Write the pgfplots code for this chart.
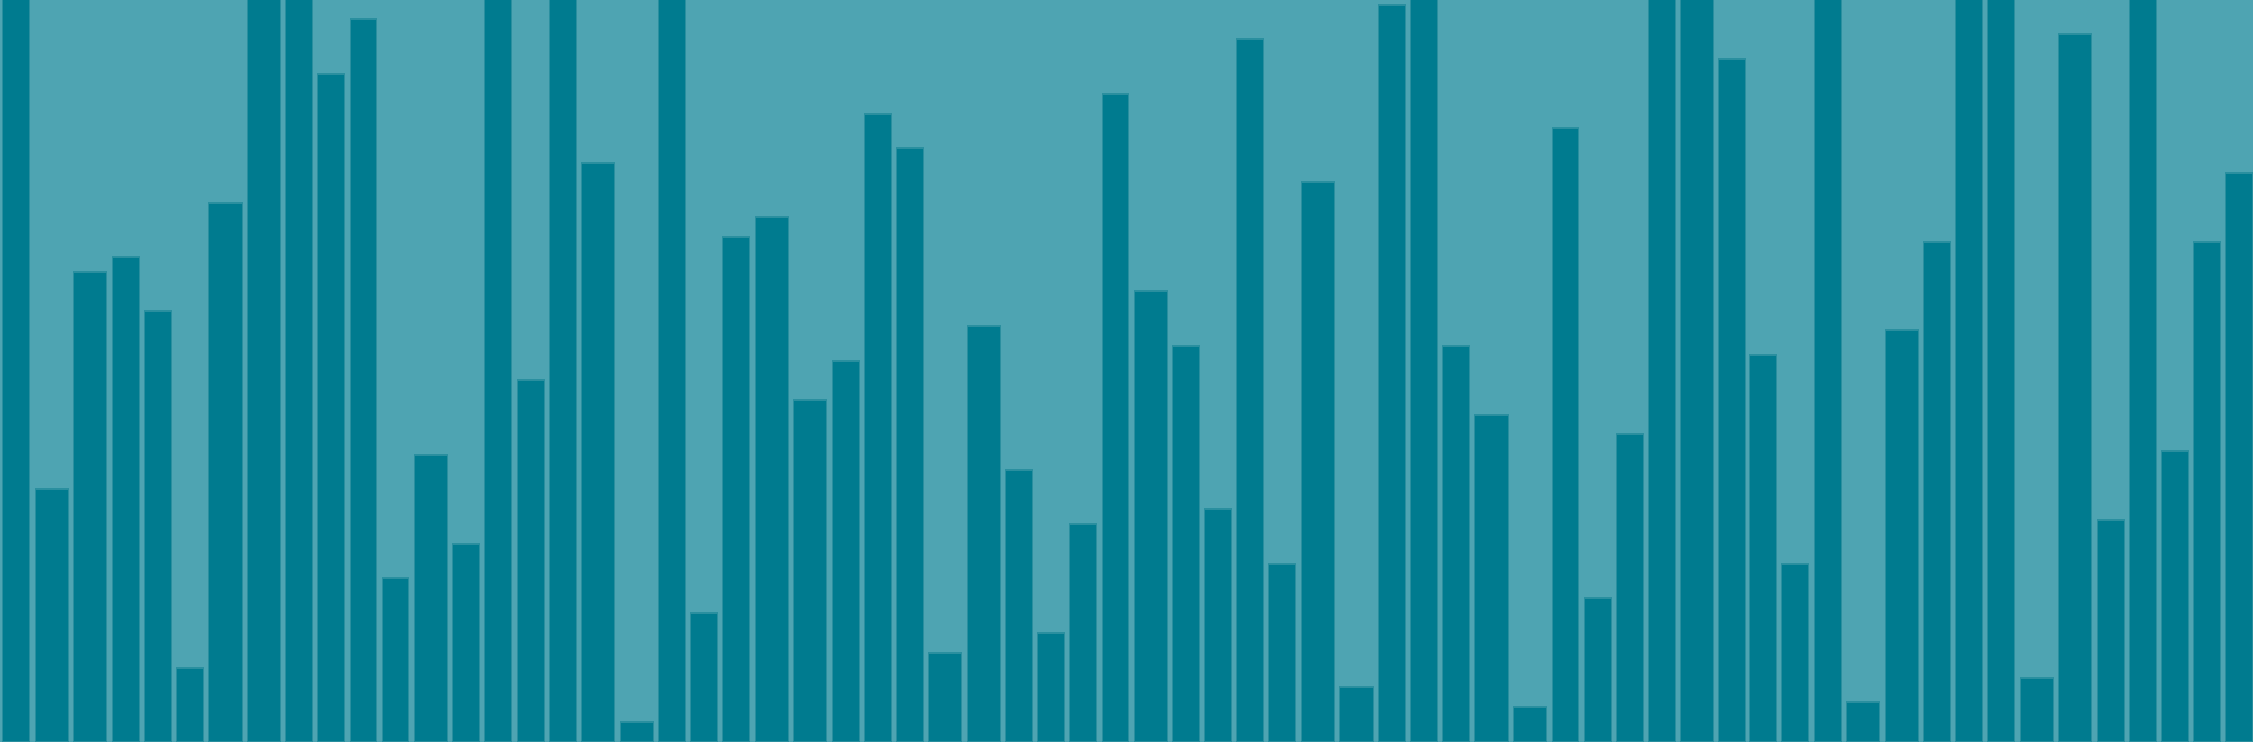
\documentclass[border=0pt]{standalone}
\usepackage{pgfplots}
\pgfplotsset{compat=1.18}

\definecolor{bgteal}{HTML}{4EA4B2}
\definecolor{barteal}{HTML}{007B8F}
\definecolor{edgeteal}{HTML}{2A8F9F}

% bar centre (px from left) and height (px); 800 = runs off the top
\pgfplotstableread{
x h
16.3 800
125.8 485
157.8 431
190.0 74
299.3 800
331.3 668
363.5 723
395.5 164
466.3 198
498.3 800
530.7 362
562.7 800
672.3 800
704.2 129
736.3 505
845.7 381
877.7 628
909.8 594
1019.3 272
1051.3 109
1083.3 218
1115.5 648
1186.3 396
1218.3 233
1250.3 703
1282.3 178
1392.2 737
1424.0 800
1456.2 396
1565.5 614
1597.7 144
1629.7 308
1661.7 800
1732.3 683
1763.3 387
1795.3 178
1827.7 800
1937.2 500
1969.3 800
2001.3 800
2110.7 222
2142.7 800
2174.7 291
2207.0 500
2239.0 569
}\narrow

\pgfplotstableread{
x h
51.7 253
90.3 470
225.5 539
264.0 800
431.0 287
598.0 579
636.8 20
771.7 525
810.2 342
945.3 89
984.0 416
1151.0 451
1318.0 560
1356.5 55
1491.5 327
1530.2 35
1697.2 800
1863.0 40
1901.7 412
2036.7 64
2075.3 708
}\wide

\begin{document}
\begin{tikzpicture}
\begin{axis}[
    width=22.53cm, height=7.42cm,
    scale only axis,
    xmin=0, xmax=2253,
    ymin=0, ymax=742,
    enlargelimits=false,
    ticks=none,
    axis line style={draw=none},
    axis background/.style={fill=bgteal},
    ybar,
    clip=true,
]
\addplot[ybar, bar shift=0pt, bar width=26.7, fill=barteal, draw=edgeteal, line width=0.3pt]
    table[x=x, y=h] {\narrow};
\addplot[ybar, bar shift=0pt, bar width=33.3, fill=barteal, draw=edgeteal, line width=0.3pt]
    table[x=x, y=h] {\wide};
\end{axis}
\end{tikzpicture}
\end{document}
